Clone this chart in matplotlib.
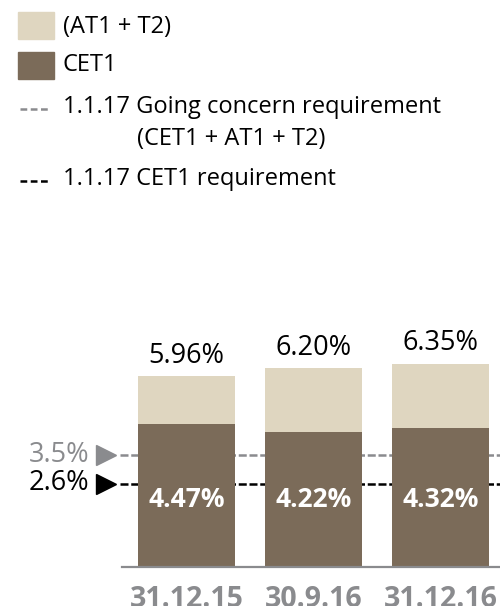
import matplotlib
matplotlib.use("Agg")
import matplotlib.pyplot as plt
import matplotlib.transforms as mtransforms
from matplotlib.patches import Rectangle
from matplotlib.lines import Line2D

plt.rcParams['font.family'] = ['Open Sans', 'DejaVu Sans']

# capital ratios in %
dates = ['31.12.15', '30.9.16', '31.12.16']
cet1 = [4.47, 4.22, 4.32]
total = [5.96, 6.20, 6.35]
at1_t2 = [t - c for t, c in zip(total, cet1)]

req_going = 3.5
req_cet1 = 2.6

DARK = '#7b6b59'
LIGHT = '#dfd6c0'
GREY = '#8a8b8e'

W, H = 500, 606
fig = plt.figure(figsize=(W / 100, H / 100), dpi=100)

# axes placed in pixel terms: baseline at y=566.7, 32 px per percent
ax = fig.add_axes([122 / W, (H - 566.7) / H, 378 / W, (566.7 - 320) / H])
ax.set_xlim(-0.51, 2.466)
ax.set_ylim(0, (566.7 - 320) / 32)
ax.axis('off')

x = list(range(len(dates)))
bw = 0.764
ax.bar(x, cet1, width=bw, color=DARK, zorder=3)
ax.bar(x, at1_t2, bottom=cet1, width=bw, color=LIGHT, zorder=3)

# requirement lines
for val, col in [(req_going, GREY), (req_cet1, 'black')]:
    ln = ax.axhline(val, xmin=-0.005, xmax=1, color=col, lw=1.8,
                    zorder=1, clip_on=False)
    ln.set_dashes((3.2, 1.1))

# baseline
ax.axhline(0, color=GREY, lw=1.6, zorder=4, clip_on=False)

for i in x:
    ax.annotate(f'{total[i]:.2f}%', (i, total[i]), xytext=(0, 14.5),
                textcoords='offset points', ha='center', va='center',
                fontsize=19.5, color='black')
    ax.text(i, 2.1, f'{cet1[i]:.2f}%', ha='center', va='center',
            fontsize=19, fontweight='bold', color='white', zorder=5)
    ax.text(i, -1.02, dates[i], ha='center', va='center', fontsize=20.5,
            fontweight='bold', color=GREY, clip_on=False)

# markers and labels left of the plot
trans = mtransforms.blended_transform_factory(ax.transAxes, ax.transData)
for val, col in [(req_going, GREY), (req_cet1, 'black')]:
    ax.plot([(106 - 122) / 378], [val], marker='>', markersize=14.5,
            color=col, transform=trans, clip_on=False)
    ax.text((89 - 122) / 378, val, f'{val}%', transform=trans, ha='right',
            va='center', fontsize=19.5, color=col, clip_on=False)

# legend
def px(xp, yp):
    return xp / W, 1 - yp / H

fig.patches.append(Rectangle(px(18, 39), 36 / W, 27 / H, color=LIGHT,
                             transform=fig.transFigure, figure=fig))
fig.patches.append(Rectangle(px(18, 79), 36 / W, 27 / H, color=DARK,
                             transform=fig.transFigure, figure=fig))
fig.text(*px(63, 27), '(AT1 + T2)', fontsize=17, va='center')
fig.text(*px(63, 65), 'CET1', fontsize=17, va='center')

for yp, col in [(109, GREY), (181, 'black')]:
    l = Line2D([20 / W, 50 / W], [1 - yp / H] * 2, color=col, lw=1.8,
               transform=fig.transFigure)
    l.set_dashes((2.7, 1.4))
    fig.lines.append(l)
fig.text(*px(63, 107), '1.1.17 Going concern requirement', fontsize=17,
         va='center')
fig.text(*px(137, 139), '(CET1 + AT1 + T2)', fontsize=17, va='center')
fig.text(*px(63, 179), '1.1.17 CET1 requirement', fontsize=17, va='center')

fig.savefig('out.png', dpi=100)
